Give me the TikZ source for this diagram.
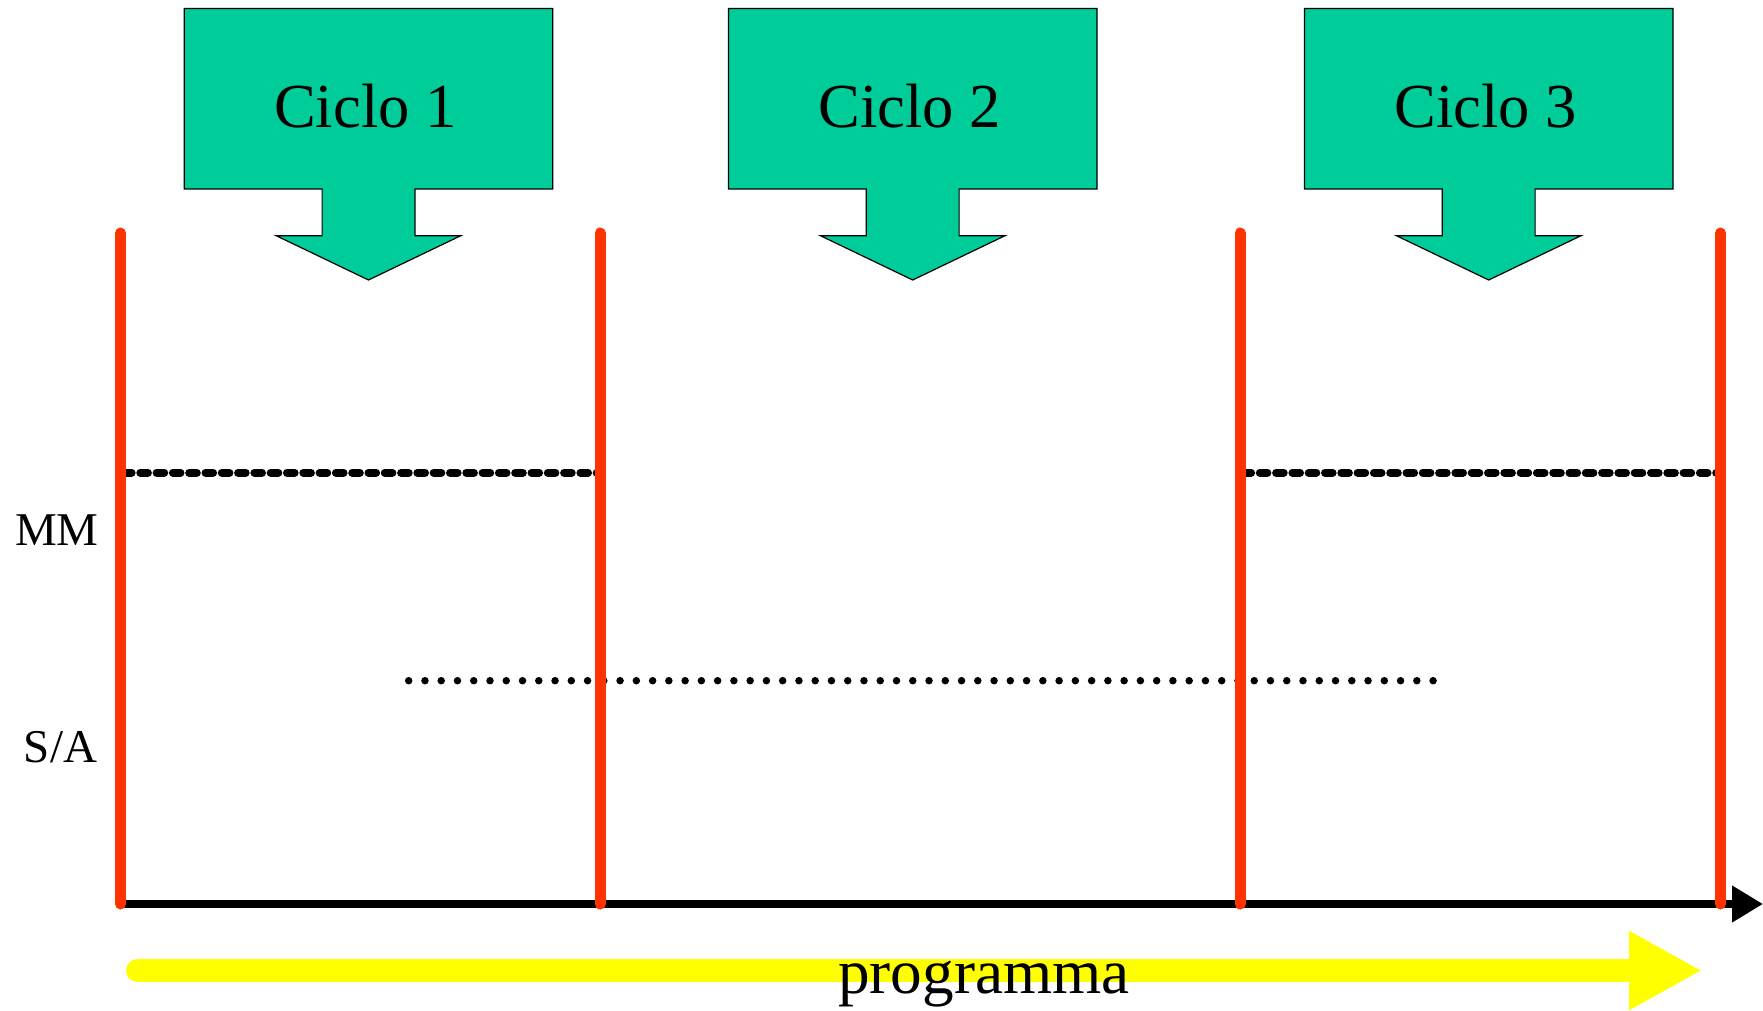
\documentclass[tikz,border=0pt]{standalone}
\usepackage{fontspec}
\setmainfont{Liberation Serif}
\usetikzlibrary{arrows.meta}
\definecolor{ciclogreen}{RGB}{0,204,153}
\definecolor{barred}{RGB}{255,51,0}
\definecolor{progyellow}{RGB}{255,255,0}
\tikzset{every picture/.style={line width=0.75pt},
  callout/.style={draw=black,fill=ciclogreen,line width=0.6pt},
  redbar/.style={color=barred,line width=5.5pt,line cap=round},
  mmline/.style={line width=4pt,line cap=round,dash pattern={on 3.8pt off 4.35pt}},
  saline/.style={line width=3.75pt,line cap=round,dash pattern={on 0pt off 8.13pt}}}

\begin{document}
\begin{tikzpicture}[x=0.5pt,y=0.5pt,yscale=-1,xscale=1]
\useasboundingbox (0,0) rectangle (1763,1011);

%Shape: Down Arrow Callout
\foreach \cx/\num in {368.5/1,912.7/2,1488.7/3}{
\draw [callout] (\cx-184.3,8.5) -- (\cx+184.3,8.5) -- (\cx+184.3,189) -- (\cx+46.4,189) -- (\cx+46.4,235.7) -- (\cx+92.3,235.7) -- (\cx,280) -- (\cx-92.3,235.7) -- (\cx-46.4,235.7) -- (\cx-46.4,189) -- (\cx-184.3,189) -- cycle ;
% Text Node
\node (ciclo\num) at (\cx-3,127.7) [anchor=base,inner sep=0pt] {\fontsize{31.3}{37}\selectfont Ciclo \num};
}

%Straight Lines
\draw [saline] (408.7,680.7) -- (1435,680.7) ;
%Straight Lines
\draw [mmline] (124,472.7) -- (597,472.7) ;
\draw [mmline] (1243.5,472.7) -- (1717,472.7) ;

%Straight Lines
\coordinate (axisstart) at (120.5,904);
\coordinate (axisend) at (1763,904);
\draw [line width=3.7pt,-{Triangle[length=15.5pt,width=17.5pt]}] (axisstart) -- (axisend) ;

%Straight Lines
\foreach \bx in {120.5,600,1240,1720.5}{
\draw [redbar] (\bx,233) -- (\bx,904) ;
}

%Straight Lines
\coordinate (progstart) at (137.5,970.5);
\coordinate (progend) at (1702,970.5);
\draw [color=progyellow,line width=11.5pt,line cap=round,-{Triangle[length=36.5pt,width=37pt]}] (progstart) -- (progend) ;

% Text Node
\node (mm) at (57,545) [anchor=base,inner sep=0pt] {\fontsize{23.5}{28}\selectfont MM};
% Text Node
\node (sa) at (60.5,762) [anchor=base,inner sep=0pt] {\fontsize{23.5}{28}\selectfont S/A};
% Text Node
\node (prog) at (984,993) [anchor=base,inner sep=0pt] {\fontsize{31.6}{38}\selectfont programma};

\end{tikzpicture}
\end{document}
